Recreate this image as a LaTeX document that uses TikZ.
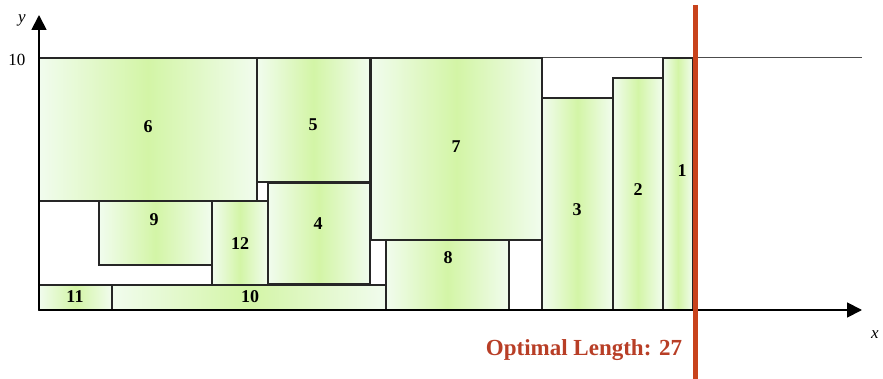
\documentclass[tikz,border=0pt]{standalone}
\usepackage{fontspec}
\setmainfont{Liberation Serif}
\usetikzlibrary{
  positioning,
  arrows.meta
}
\definecolor{gedge}{HTML}{F1FCEE}
\definecolor{gmid}{HTML}{D3F5A6}
\definecolor{optred}{HTML}{C8431C}
\definecolor{optlbl}{HTML}{B83E26}

\begin{document}
\begin{tikzpicture}[
  x=1pt, y=-1pt,
  box/.style={draw=black!85, line width=1.2pt, left color=gedge, right color=gedge, middle color=gmid},
  num/.style={font=\fontsize{18}{20}\selectfont\bfseries, inner sep=0pt},
  axis/.style={-{Triangle[length=15pt, width=15pt]}, line width=1.8pt},
  lbl/.style={font=\fontsize{17}{19}\selectfont, inner sep=0pt},
]
  \useasboundingbox (0,0) rectangle (883,379);

  % Axes
  \coordinate (O) at (39,310);
  \coordinate (xend) at (862,310);
  \coordinate (yend) at (39,15);
  \coordinate (tl) at (39,58);
  \coordinate (tr) at (862,58);
  \draw[black!70, line width=1pt] (tl) -- (tr);

  % Packed rectangles
  \draw[box] (39,58) rectangle (257,201);
  \draw[box] (257,58) rectangle (370,182);
  \draw[box] (371,58) rectangle (542,240);
  \draw[box] (99,201) rectangle (212,265);
  \draw[box] (212,201) rectangle (268,285);
  \draw[box] (268,183) rectangle (370,284);
  \draw[box] (386,240) rectangle (509,310);
  \draw[box] (39,285) rectangle (112,310);
  \draw[box] (112,285) rectangle (386,310);
  \draw[box] (542,98) rectangle (613,310);
  \draw[box] (613,78) rectangle (663,310);
  \draw[box] (663,58) rectangle (693,310);

  \node[num] (r6) at (148,127) {6};
  \node[num] (r5) at (313,125) {5};
  \node[num] (r7) at (456,147) {7};
  \node[num] (r9) at (154,220) {9};
  \node[num] (r12) at (240,244) {12};
  \node[num] (r4) at (318,224) {4};
  \node[num] (r8) at (448,258) {8};
  \node[num] (r11) at (75,297) {11};
  \node[num] (r10) at (250,297) {10};
  \node[num] (r3) at (577,210) {3};
  \node[num] (r2) at (638,190) {2};
  \node[num] (r1) at (682,171) {1};

  \draw[axis] (O) -- (xend);
  \draw[axis] (O) -- (yend);
  \node[lbl] (ylbl) at (22,20) {\itshape y};
  \node[lbl] (xlbl) at (875,335) {\itshape x};
  \node[lbl] (ten) at (17,60) {10};

  % Optimal length
  \coordinate (ltop) at (695,5);
  \coordinate (lbot) at (695,379);
  \draw[optred, line width=5pt] (ltop) -- (lbot);
  \node[font=\fontsize{23}{26}\selectfont\bfseries, text=optlbl, inner sep=0pt] (opt) at (584,350) {Optimal Length: 27};
\end{tikzpicture}
\end{document}
